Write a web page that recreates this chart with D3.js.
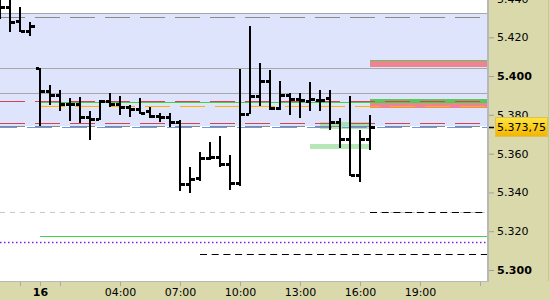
<!DOCTYPE html>
<html>
<head>
<meta charset="utf-8">
<script src="https://cdnjs.cloudflare.com/ajax/libs/d3/7.8.5/d3.min.js"></script>
<style>
  body { margin: 0; background: #fff; }
  svg { display: block; font-family: 'DejaVu Sans', sans-serif; }
</style>
</head>
<body>
<script>
const parseTime = d3.timeParse('%d %H:%M');

// 30 minute OHLC bars
const times = ['15 22:00', '15 22:30', '15 23:00', '15 23:30', '16 00:00', '16 00:30', '16 01:00', '16 01:30',
  '16 02:00', '16 02:30', '16 03:00', '16 03:30', '16 04:00', '16 04:30', '16 05:00', '16 05:30', '16 06:00',
  '16 06:30', '16 07:00', '16 07:30', '16 08:00', '16 08:30', '16 09:00', '16 09:30', '16 10:00', '16 10:30',
  '16 11:00', '16 11:30', '16 12:00', '16 12:30', '16 13:00', '16 13:30', '16 14:00', '16 14:30', '16 15:00',
  '16 15:30', '16 16:00', '16 16:30'];
const opens = [5438, 5435.75, 5428.5, 5423.5, 5404, 5392.5, 5390, 5385.5, 5385.5, 5379, 5377.75, 5387.25, 5385.5,
  5384, 5383, 5381.75, 5379.5, 5379, 5376.5, 5344.25, 5347.25, 5357.5, 5358.5, 5354.5, 5344.75, 5380.25, 5389.75,
  5397.5, 5383.5, 5390.5, 5388, 5387.25, 5387.75, 5388.5, 5376.5, 5367.5, 5348.75, 5367.5];
const highs = [5441, 5440.5, 5435.75, 5428, 5404.25, 5395.5, 5392.75, 5388.75, 5389.25, 5382, 5387.75, 5391.25,
  5389.75, 5385, 5388.5, 5384, 5381, 5380.75, 5377.25, 5353, 5360.75, 5366, 5369, 5359.25, 5403.75, 5425.75, 5406.5,
  5403.25, 5397.5, 5391.5, 5391.5, 5397, 5392.75, 5392.75, 5378.25, 5389.75, 5372.25, 5380];
const lows = [5429.5, 5422.75, 5422.75, 5420.75, 5374.25, 5385, 5381.75, 5377, 5376, 5367, 5377.25, 5384, 5380,
  5379, 5380.25, 5378.5, 5376.5, 5374, 5340.5, 5339.75, 5346, 5356.75, 5353.25, 5341.5, 5343.25, 5380.25, 5384.5,
  5382.5, 5382.5, 5380, 5378.5, 5382.25, 5382.25, 5372.25, 5363, 5348.25, 5345.5, 5361.75];
const closes = [5435.5, 5428, 5423.5, 5426, 5392.5, 5390, 5385.5, 5385.5, 5379, 5377.75, 5387.25, 5385.5, 5384,
  5383, 5380.75, 5379.5, 5379, 5376.5, 5344.25, 5347, 5357.5, 5358.5, 5354.5, 5344.75, 5380.25, 5389.75, 5397.5,
  5383.5, 5390.5, 5388, 5387.75, 5388.25, 5387.75, 5376.5, 5367.5, 5348.75, 5367.5, 5373.75];

// shaded value area
const bandHigh = 5432.5;
const bandLow = 5374.25;

// horizontal levels
const levelPrices = [5432.5, 5430.25, 5404, 5391.5, 5387.25, 5386.5, 5384.5, 5375.75, 5374.5, 5373.5,
  5329.75, 5330, 5317.5, 5314.25, 5308.5];
const levelFrom = ['15 22:00', '15 22:00', '15 22:00', '15 22:00', '15 22:00', '16 00:00', '16 00:00', '15 22:00',
  '15 22:00', '15 22:00', '15 22:00', '16 16:30', '16 00:00', '15 22:00', '16 08:00'];
const levelKinds = ['grid', 'gridDash', 'grid', 'grid', 'red', 'green', 'orange', 'red', 'gridDash', 'blue',
  'lightDash', 'blackDash', 'green', 'dotted', 'blackDash'];

// zones
const zoneFrom = ['16 16:30', '16 16:30', '16 16:30', '16 16:30', '16 14:00', '16 13:30'];
const zoneTo = ['16 23:00', '16 23:00', '16 23:00', '16 23:00', '16 16:30', '16 16:30'];
const zoneTop = [5408.5, 5407.75, 5388.25, 5386.75, 5376.5, 5364.75];
const zoneBottom = [5407.75, 5404.75, 5386.75, 5383.75, 5372.5, 5362.5];
const zoneKinds = ['top', 'body', 'top', 'body', 'touch', 'touch'];

// axes
const yTicks = [5300, 5320, 5340, 5360, 5380, 5400, 5420, 5440];
const yBoldTicks = [5300, 5400];
const xTicks = ['15 23:00', '16 00:00', '16 01:00', '16 04:00', '16 07:00', '16 10:00', '16 13:00', '16 16:00',
  '16 19:00', '16 22:00'];
const xTickLabels = ['', '16', '', '04:00', '07:00', '10:00', '13:00', '16:00', '19:00', ''];

const locale = d3.formatLocale({ decimal: ',', thousands: '.', grouping: [3], currency: ['', ''] });
const tickFormat = locale.format(',.0f');
const priceFormat = locale.format(',.2f');

const plotRight = 488;
const plotBottom = 281;
const khaki = '#d9d9ab';

const levelStyle = {
  grid: { stroke: '#a8a8a8', dash: null, offset: 0, w: 1 },
  gridDash: { stroke: '#8a8a8a', dash: '25,10', offset: 0, w: 1 },
  red: { stroke: '#d8424e', dash: '25,10', offset: 0, w: 1 },
  green: { stroke: '#44d044', dash: null, offset: 0, w: 1 },
  orange: { stroke: '#ffb000', dash: '25,10', offset: 0, w: 1 },
  blue: { stroke: '#6a98e8', dash: '25,10', offset: 8, w: 1 },
  lightDash: { stroke: '#c8c8c8', dash: '5,5', offset: 0, w: 1 },
  blackDash: { stroke: '#000', dash: '7,4.7', offset: 0, w: 1 },
  dotted: { stroke: '#8a1ae6', dash: '1.5,2.5', offset: 0, w: 1.5 },
};
const zoneFill = {
  top: { fill: '#5cc85c', opacity: 1 },
  body: { fill: '#ef8391', opacity: 1 },
  touch: { fill: '#8edc8e', opacity: 0.65 },
};

const bars = times.map((t, i) => ({
  t: parseTime(t), o: opens[i], h: highs[i], l: lows[i], c: closes[i],
}));

const x = d3.scaleTime()
  .domain([parseTime('15 22:00'), parseTime('16 22:00')])
  .range([0, 480]);
const y = d3.scaleLinear()
  .domain([5300, 5420])
  .range([270, 37.3]);
const py = v => Math.round(y(v));

const svg = d3.select('body').append('svg')
  .attr('width', 550)
  .attr('height', 300);

svg.append('rect').attr('width', 550).attr('height', 300).attr('fill', '#fff');

svg.append('clipPath').attr('id', 'plot')
  .append('rect').attr('width', plotRight).attr('height', plotBottom);

const plot = svg.append('g').attr('clip-path', 'url(#plot)');

// value area band
plot.append('rect')
  .attr('x', 0)
  .attr('width', plotRight)
  .attr('y', py(bandHigh))
  .attr('height', py(bandLow) - py(bandHigh))
  .attr('fill', '#dde4fb');

// zones
plot.selectAll('rect.zone')
  .data(zoneKinds)
  .enter().append('rect')
    .attr('class', 'zone')
    .attr('x', (d, i) => Math.round(x(parseTime(zoneFrom[i]))))
    .attr('width', (d, i) => Math.round(x(parseTime(zoneTo[i])) - x(parseTime(zoneFrom[i]))))
    .attr('y', (d, i) => py(zoneTop[i]))
    .attr('height', (d, i) => Math.max(1, py(zoneBottom[i]) - py(zoneTop[i])))
    .attr('fill', d => zoneFill[d].fill)
    .attr('fill-opacity', d => zoneFill[d].opacity);

// level lines
plot.selectAll('line.level')
  .data(levelPrices)
  .enter().append('line')
    .attr('class', 'level')
    .attr('x1', (d, i) => x(parseTime(levelFrom[i])))
    .attr('x2', plotRight)
    .attr('y1', d => py(d) + 0.5)
    .attr('y2', d => py(d) + 0.5)
    .attr('stroke', (d, i) => levelStyle[levelKinds[i]].stroke)
    .attr('stroke-width', (d, i) => levelStyle[levelKinds[i]].w)
    .attr('stroke-dasharray', (d, i) => levelStyle[levelKinds[i]].dash)
    .attr('stroke-dashoffset', (d, i) => levelStyle[levelKinds[i]].offset);

// OHLC bars
const barG = plot.selectAll('g.bar')
  .data(bars)
  .enter().append('g')
    .attr('class', 'bar')
    .attr('shape-rendering', 'crispEdges')
    .attr('fill', '#000');
barG.append('rect')
  .attr('x', d => Math.round(x(d.t)) - 1)
  .attr('width', 2)
  .attr('y', d => py(d.h))
  .attr('height', d => Math.max(2, py(d.l) - py(d.h)));
barG.append('rect')
  .attr('x', d => Math.round(x(d.t)) - 4)
  .attr('width', 3)
  .attr('y', d => py(d.o) - 1)
  .attr('height', 3);
barG.append('rect')
  .attr('x', d => Math.round(x(d.t)) + 1)
  .attr('width', 4)
  .attr('y', d => py(d.c) - 1)
  .attr('height', 3);

// axis panels
svg.append('rect').attr('x', plotRight).attr('y', 0).attr('width', 550 - plotRight).attr('height', 300).attr('fill', khaki);
svg.append('rect').attr('x', 0).attr('y', plotBottom + 1).attr('width', 550).attr('height', 300 - plotBottom).attr('fill', khaki);
svg.append('line').attr('x1', 548.5).attr('x2', 548.5).attr('y1', 0).attr('y2', plotBottom)
  .attr('stroke', '#c6c69a');
svg.append('line').attr('x1', 0).attr('x2', plotRight).attr('y1', plotBottom + 0.5).attr('y2', plotBottom + 0.5)
  .attr('stroke', '#b8b8b8');
svg.append('rect').attr('x', plotRight - 1).attr('y', 0).attr('width', 2).attr('height', plotBottom + 1)
  .attr('fill', '#b8b8b8');

const yAxis = d3.axisRight(y)
  .tickValues(yTicks)
  .tickSize(5)
  .tickPadding(3)
  .tickFormat(tickFormat);
const yAxisG = svg.append('g')
  .attr('transform', `translate(${plotRight + 1}, 0)`)
  .call(yAxis);
yAxisG.select('.domain').remove();
yAxisG.selectAll('line').attr('stroke', '#a0a0a0');
yAxisG.selectAll('text')
  .attr('font-size', 11)
  .attr('font-family', "'DejaVu Sans', sans-serif")
  .attr('fill', '#000')
  .attr('font-weight', d => (yBoldTicks.includes(d) ? 'bold' : 'normal'));

const xAxis = d3.axisBottom(x)
  .tickValues(xTicks.map(parseTime))
  .tickSize(4)
  .tickPadding(2)
  .tickFormat((d, i) => xTickLabels[i]);
const xAxisG = svg.append('g')
  .attr('transform', `translate(0, ${plotBottom + 1})`)
  .call(xAxis);
xAxisG.select('.domain').remove();
xAxisG.selectAll('line').attr('stroke', '#a8a8a8');
xAxisG.selectAll('text')
  .attr('font-size', 11)
  .attr('font-family', "'DejaVu Sans', sans-serif")
  .attr('fill', '#000')
  .attr('font-weight', (d, i) => (xTickLabels[i] === '16' ? 'bold' : 'normal'));

// last price marker
const last = closes[closes.length - 1];
const grad = svg.append('defs').append('linearGradient')
  .attr('id', 'lastGrad').attr('x1', 0).attr('x2', 0).attr('y1', 0).attr('y2', 1);
grad.append('stop').attr('offset', '0%').attr('stop-color', '#ffe640');
grad.append('stop').attr('offset', '100%').attr('stop-color', '#f2b400');
svg.append('rect')
  .attr('x', 495.5)
  .attr('y', py(last) - 9.5)
  .attr('width', 52)
  .attr('height', 19)
  .attr('fill', 'url(#lastGrad)')
  .attr('stroke', '#e0c050');
svg.append('line')
  .attr('x1', plotRight + 1).attr('x2', plotRight + 6)
  .attr('y1', py(last) + 0.5).attr('y2', py(last) + 0.5)
  .attr('stroke', '#000')
  .attr('stroke-width', 1.5);
svg.append('text')
  .attr('x', 497)
  .attr('y', py(last))
  .attr('dy', '0.36em')
  .attr('font-size', 11)
  .attr('fill', '#000')
  .text(priceFormat(last));
</script>
</body>
</html>
